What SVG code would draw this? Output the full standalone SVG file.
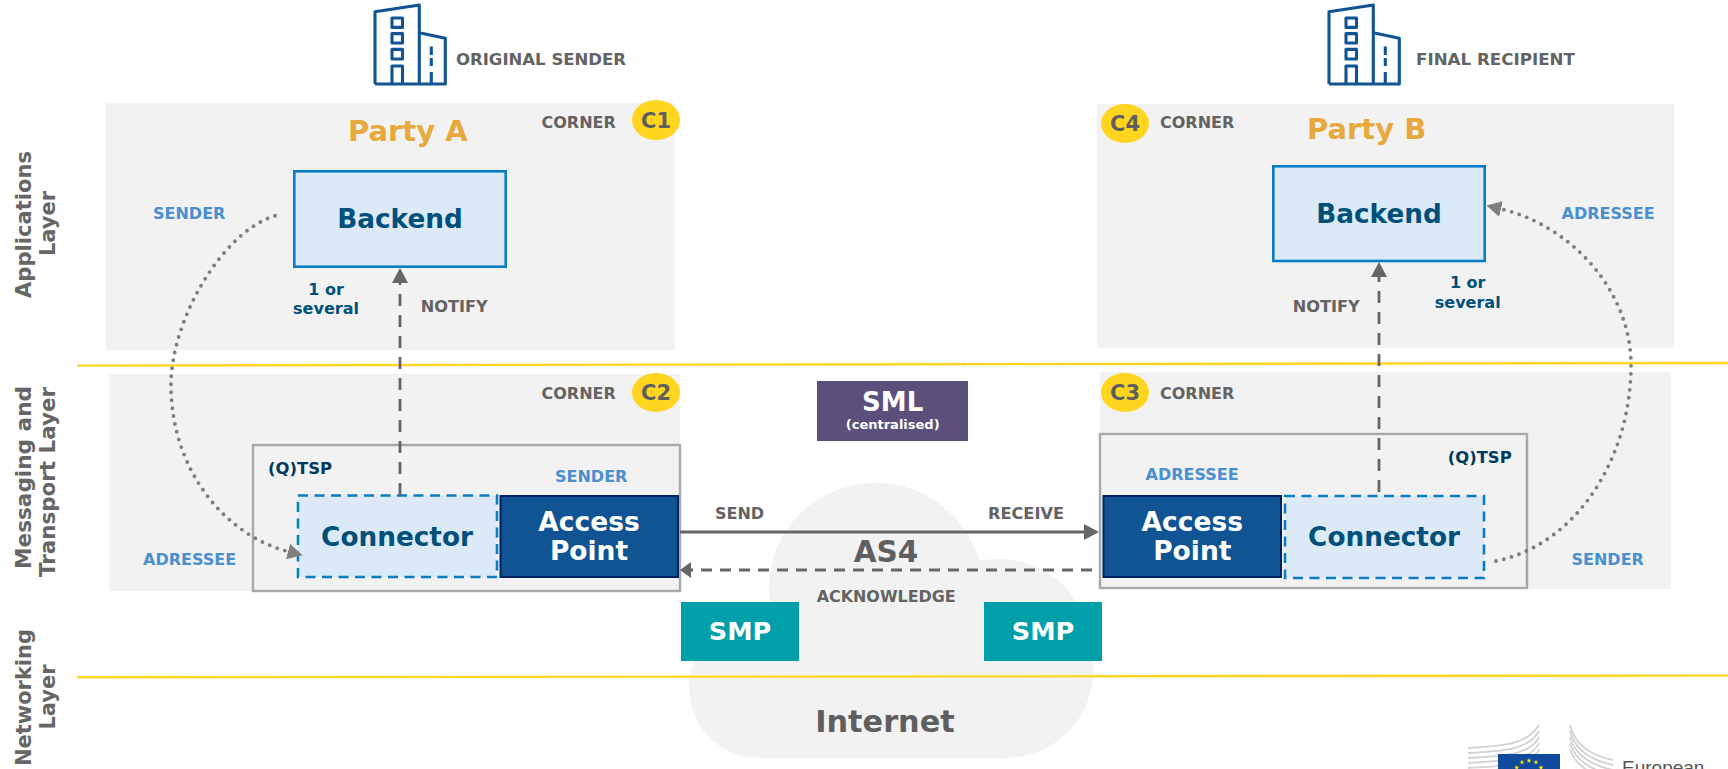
<svg xmlns="http://www.w3.org/2000/svg" width="1728" height="769" viewBox="0 0 1728 769">
<style>
text{font-family:"DejaVu Sans","Verdana",sans-serif;font-weight:700}
.panel{fill:#f2f2f2}
.lay{font-size:21px;fill:#666}
.lab{font-size:16px;fill:#636363}
.role{font-size:16px;fill:#4a8fd0}
.qt{font-size:16px;fill:#00395f}
.one{font-size:16px;fill:#00507c;text-anchor:middle}
.big{font-size:26.3px;fill:#00507c;text-anchor:middle}
.wh{font-size:26.5px;fill:#fff;text-anchor:middle}
.party{font-size:29px;fill:#e8a93c}
.cn{font-size:21px;fill:#5f5f5f;text-anchor:middle}
.conn{fill:#dce9f6;stroke:#0a7cc4;stroke-width:2.6;stroke-dasharray:10 6.5}
.back{fill:#dce9f6;stroke:#0a7cc4;stroke-width:2.6}
.ap{fill:#105494;stroke:#002060;stroke-width:2}
.tsp{fill:none;stroke:#a8a8a8;stroke-width:2.4}
.smp{fill:#00a0aa}
.yl{stroke:#ffd520;stroke-width:2.4;fill:none}
.bld{fill:none;stroke:#105494;stroke-width:3.1;stroke-linejoin:round}
.dot{fill:none;stroke:#7f7f7f;stroke-width:3.9;stroke-linecap:round;stroke-dasharray:0 8}
.dash{fill:none;stroke:#666;stroke-width:2.8;stroke-dasharray:12 9}
.sol{fill:none;stroke:#666;stroke-width:2.8}
.st{fill:#ffe600}
.wing{fill:none;stroke:#d2d2d2;stroke-width:1.8}
</style>
<defs>
<marker id="ah" markerUnits="userSpaceOnUse" markerWidth="16" markerHeight="18" refX="0" refY="8" orient="auto"><path d="M0 0L15 8L0 16Z" fill="#666"/></marker>
<marker id="as" markerUnits="userSpaceOnUse" markerWidth="12" markerHeight="18" refX="0" refY="8" orient="auto"><path d="M0 0L11 8L0 16Z" fill="#666"/></marker>
<marker id="ad" markerUnits="userSpaceOnUse" markerWidth="17" markerHeight="18" refX="0" refY="8" orient="auto"><path d="M0 0L15 8L0 16Z" fill="#7f7f7f"/></marker>
<g id="bicon">
<path class="bld" d="M375 84V11.7L419.3 5V84M375 84H445.3V38.3L419.3 32.7"/>
<rect class="bld" x="392" y="18" width="10.5" height="9.4"/>
<rect class="bld" x="392" y="33.6" width="10.5" height="9.4"/>
<rect class="bld" x="392" y="49.4" width="10.5" height="9.6"/>
<path class="bld" d="M392 84V66H402.5V84"/>
<path class="bld" d="M431.3 46.5V55M431.3 58V66M431.3 72V84"/>
</g>
<polygon id="star" class="st" points="0,-2.7 0.65,-0.85 2.6,-0.85 1,0.3 1.6,2.2 0,1.05 -1.6,2.2 -1,0.3 -2.6,-0.85 -0.65,-0.85"/>
</defs>

<rect width="1728" height="769" fill="#fff"/>

<g id="panels">
<rect class="panel" x="106" y="103" width="569" height="247"/>
<rect class="panel" x="109" y="374" width="571" height="217"/>
<rect class="panel" x="1097" y="104" width="577" height="244"/>
<rect class="panel" x="1100" y="372" width="571" height="217"/>
</g>

<g id="internet-cloud">
<path class="panel" d="M760 758C718 758 689 725 689 687C689 650 722 622 772 608C770 600 769 595 769 590C769 530 815 483 877 483C925 483 965 515 980 561C988 559 996 559 1003 559C1046 562 1078 590 1088 628C1092 645 1093 660 1093 670C1093 720 1055 758 1003 758Z"/>
<text x="886" y="562.3" font-size="29.5" fill="#5f5f5f" text-anchor="middle">AS4</text>
<text x="885" y="731.7" font-size="30.3" fill="#5f5f5f" text-anchor="middle">Internet</text>
</g>

<g id="layer-lines">
<path class="yl" d="M77 365.6L1728 363"/>
<path class="yl" d="M77 677.3L1728 675.6"/>
</g>

<g id="layer-labels">
<text class="lay" transform="translate(30.7 298) rotate(-90)" textLength="147" lengthAdjust="spacingAndGlyphs">Applications</text>
<text class="lay" text-anchor="middle" transform="translate(55 223.5) rotate(-90)">Layer</text>
<text class="lay" transform="translate(30.7 569) rotate(-90)" textLength="183" lengthAdjust="spacingAndGlyphs">Messaging and</text>
<text class="lay" transform="translate(55 577) rotate(-90)" textLength="190" lengthAdjust="spacingAndGlyphs">Transport Layer</text>
<text class="lay" transform="translate(30.7 766) rotate(-90)" textLength="137" lengthAdjust="spacingAndGlyphs">Networking</text>
<text class="lay" text-anchor="middle" transform="translate(55 697) rotate(-90)">Layer</text>
</g>

<g id="original-sender">
<use href="#bicon"/>
<text class="lab" x="456" y="64.5" textLength="170" lengthAdjust="spacingAndGlyphs">ORIGINAL SENDER</text>
</g>
<g id="final-recipient">
<use href="#bicon" x="954"/>
<text class="lab" x="1416" y="64.5" textLength="159" lengthAdjust="spacingAndGlyphs">FINAL RECIPIENT</text>
</g>

<g id="corner-c1">
<text class="lab" x="541.5" y="127.5">CORNER</text>
<ellipse cx="656" cy="120" rx="24" ry="20" fill="#ffd520"/>
<text class="cn" x="656" y="127.5">C1</text>
</g>
<g id="corner-c2">
<text class="lab" x="541.5" y="398.5">CORNER</text>
<ellipse cx="656" cy="392.5" rx="24" ry="19.5" fill="#ffd520"/>
<text class="cn" x="656" y="400">C2</text>
</g>
<g id="corner-c3">
<text class="lab" x="1160" y="398.5">CORNER</text>
<ellipse cx="1125" cy="392.5" rx="24" ry="19.5" fill="#ffd520"/>
<text class="cn" x="1125" y="400">C3</text>
</g>
<g id="corner-c4">
<text class="lab" x="1160" y="128">CORNER</text>
<ellipse cx="1125" cy="123.5" rx="24" ry="19.5" fill="#ffd520"/>
<text class="cn" x="1125" y="131">C4</text>
</g>

<g id="party-a"><text class="party" x="348" y="141">Party A</text></g>
<g id="party-b"><text class="party" x="1307" y="139">Party B</text></g>

<g id="backend-a">
<rect class="back" x="294.3" y="171.3" width="211.4" height="95.4"/>
<text class="big" x="400" y="228">Backend</text>
</g>
<g id="backend-b">
<rect class="back" x="1273.3" y="166.3" width="211.4" height="94.7"/>
<text class="big" x="1379" y="222.7">Backend</text>
</g>
<text class="one" x="326" y="294.7">1 or</text>
<text class="one" x="326" y="314">several</text>
<text class="one" x="1467.7" y="288">1 or</text>
<text class="one" x="1467.7" y="307.7">several</text>

<text class="role" x="153" y="219">SENDER</text>
<text class="role" x="1561.5" y="219">ADRESSEE</text>
<text class="role" x="143" y="565">ADRESSEE</text>
<text class="role" x="1571.5" y="565">SENDER</text>

<g id="tsp-a">
<rect class="tsp" x="253" y="445" width="427" height="146"/>
<text class="qt" x="268" y="474" textLength="64" lengthAdjust="spacingAndGlyphs">(Q)TSP</text>
<text class="role" x="555" y="481.7">SENDER</text>
</g>
<g id="tsp-b">
<rect class="tsp" x="1100" y="434" width="427" height="154"/>
<text class="qt" x="1447.7" y="463.3" textLength="64" lengthAdjust="spacingAndGlyphs">(Q)TSP</text>
<text class="role" x="1145.5" y="480">ADRESSEE</text>
</g>

<g id="connector-a">
<rect class="conn" x="298" y="495.5" width="199" height="81.5"/>
<text class="big" x="397" y="546">Connector</text>
</g>
<g id="access-point-a">
<rect class="ap" x="500.5" y="496" width="177.5" height="81"/>
<text class="wh" x="589" y="530.7">Access</text>
<text class="wh" x="589" y="560">Point</text>
</g>
<g id="access-point-b">
<rect class="ap" x="1103.5" y="496" width="177.5" height="81"/>
<text class="wh" x="1192.3" y="530.7">Access</text>
<text class="wh" x="1192.3" y="560">Point</text>
</g>
<g id="connector-b">
<rect class="conn" x="1285" y="496" width="199" height="82"/>
<text class="big" x="1384" y="546">Connector</text>
</g>

<g id="sml">
<rect x="817" y="381" width="151" height="60" fill="#5b4f7c"/>
<text x="892.7" y="411.3" font-size="26" fill="#fff" text-anchor="middle">SML</text>
<text x="892.7" y="429.3" font-size="13" fill="#fff" text-anchor="middle">(centralised)</text>
</g>
<g id="smp-a">
<rect class="smp" x="681" y="602" width="118" height="59"/>
<text x="740" y="640" font-size="25.5" fill="#fff" text-anchor="middle">SMP</text>
</g>
<g id="smp-b">
<rect class="smp" x="984" y="602" width="118" height="59"/>
<text x="1043" y="640" font-size="25.5" fill="#fff" text-anchor="middle">SMP</text>
</g>

<g id="connectors">
<path class="dash" d="M400 495V283" marker-end="url(#ah)"/>
<path class="dash" d="M1379 492V277" marker-end="url(#ah)"/>
<path class="sol" d="M680 532H1084" marker-end="url(#ah)"/>
<path class="dash" style="stroke-dasharray:11 8" d="M1092 570H691" marker-end="url(#as)"/>
<path class="dot" d="M275 215.7C222 232 171 320 171 385C171 470 225 535 288 551.5" marker-end="url(#ad)"/>
<path class="dot" d="M1496 561C1575 545 1631 460 1631 365C1631 290 1570 225 1501 209" marker-end="url(#ad)"/>
</g>
<text class="lab" x="420.7" y="311.7" textLength="67" lengthAdjust="spacingAndGlyphs">NOTIFY</text>
<text class="lab" x="1292.7" y="311.7" textLength="67" lengthAdjust="spacingAndGlyphs">NOTIFY</text>
<text class="lab" x="715" y="519">SEND</text>
<text class="lab" x="988" y="519" textLength="76" lengthAdjust="spacingAndGlyphs">RECEIVE</text>
<text class="lab" x="816.7" y="601.7" textLength="139" lengthAdjust="spacingAndGlyphs">ACKNOWLEDGE</text>

<g id="ec-logo">
<path class="wing" d="M1468 748C1500 746 1526 746 1539 725M1468 753C1500 751 1528 751 1539 731M1468 758C1500 756 1530 756 1539 737M1468 763C1500 761 1532 761 1539 743M1468 768C1500 766 1534 766 1539 749"/>
<path class="wing" d="M1570 725C1575 745 1590 755 1613 760M1570 731C1575 750 1590 760 1613 765M1570 737C1575 755 1590 765 1613 770M1570 743C1575 760 1590 770 1613 775M1570 749C1575 765 1590 775 1613 780"/>
<rect x="1498" y="754" width="62" height="15" fill="#0f4a9e"/>
<use href="#star" x="1529" y="760.7"/>
<use href="#star" x="1522" y="762.3"/>
<use href="#star" x="1536" y="762.3"/>
<use href="#star" x="1516.7" y="767.7"/>
<use href="#star" x="1541" y="767.7"/>
<text x="1622" y="774" font-size="19" fill="#555" style="font-family:'Liberation Sans',Arial,sans-serif;font-weight:400">European</text>
</g>
</svg>
